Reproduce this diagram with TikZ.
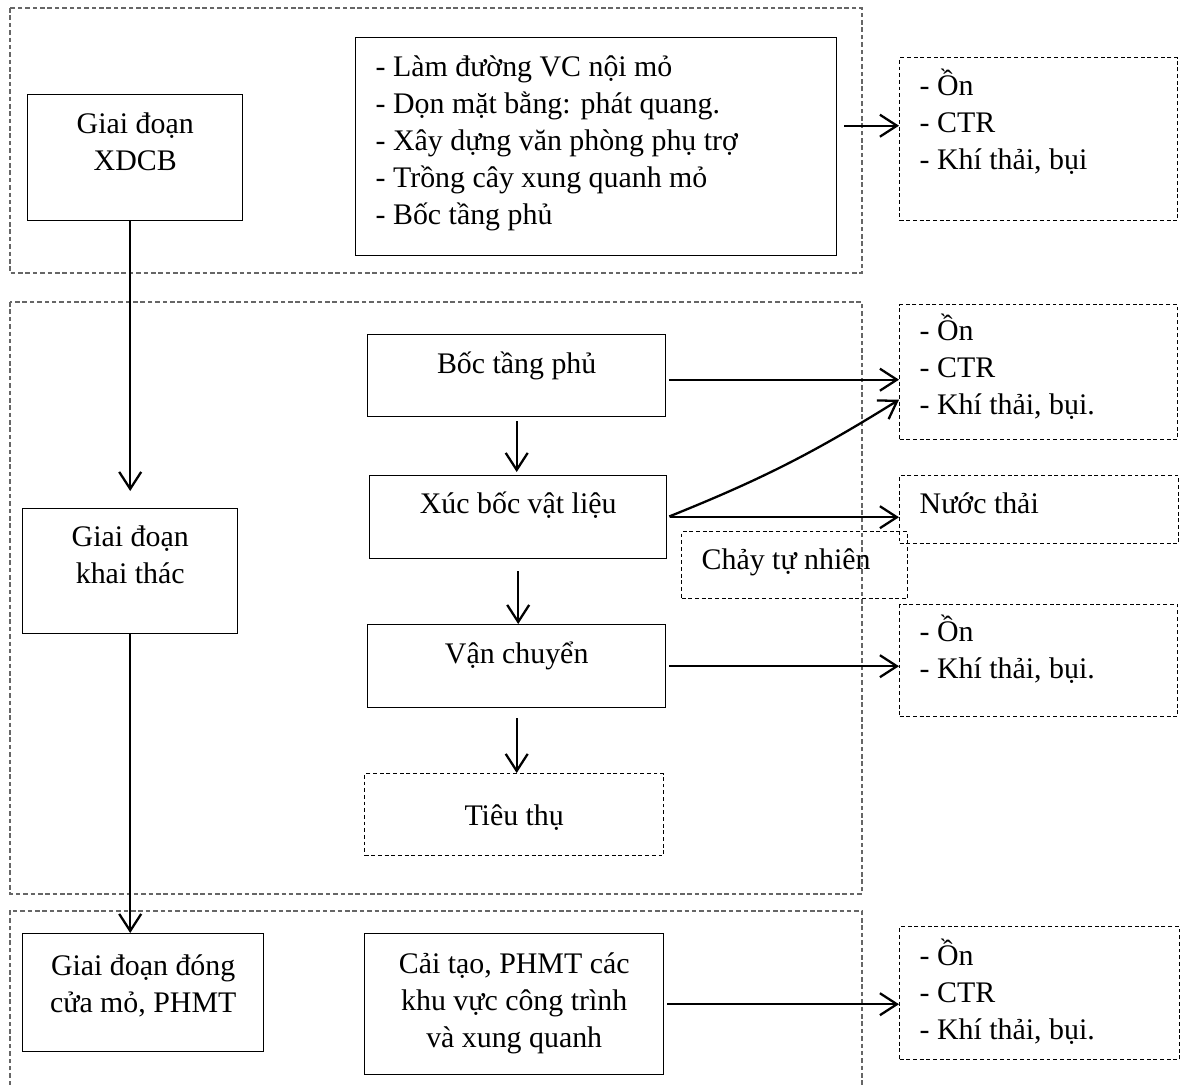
\documentclass[tikz,border=0pt]{standalone}
\usepackage{fontspec}
\setmainfont{Liberation Serif}
\usetikzlibrary{arrows.meta,calc,positioning}

% text in a box of fixed size, first baseline at #3 below the top
\newcommand{\midtext}[4]{\parbox[c][#1][t]{#2}{\centering\rule{0pt}{#3}#4\par}}
\newcommand{\sidetext}[4]{\parbox[c][#1][t]{#2}{\raggedright\leftskip=0.4cm\relax\rule{0pt}{#3}#4\par}}

\tikzset{
  solidbox/.style={draw, line width=0.8pt, inner sep=0pt, anchor=north west},
  dashbox/.style={solidbox, dash pattern=on 2.2pt off 1.6pt},
  group/.style={draw=black!60, line width=0.6pt, dash pattern=on 2.6pt off 1.6pt},
  arr/.style={-{Straight Barb[length=3.4mm,width=4.4mm]}, line width=1.3pt}
}

\begin{document}
\begin{tikzpicture}[font=\fontsize{17pt}{21pt}\selectfont]
\useasboundingbox (0,0) rectangle (23.6,-21.7);

% the three stages
\draw[group] (0.2,-0.16) rectangle (17.24,-5.46);
\draw[group] (0.2,-6.04) rectangle (17.24,-17.88);
\draw[group] (0.2,-22) -- (0.2,-18.22) -- (17.24,-18.22) -- (17.24,-22);

% XDCB
\node[solidbox] (xdcb) at (0.54,-1.88) {\midtext{2.52cm}{4.30cm}{0.78cm}{Giai đoạn\\XDCB}};
\node[solidbox] (list) at (7.10,-0.74) {\sidetext{4.36cm}{9.62cm}{0.78cm}{- Làm đường VC nội mỏ\\- Dọn mặt bằng: phát quang.\\- Xây dựng văn phòng phụ trợ\\- Trồng cây xung quanh mỏ\\- Bốc tầng phủ}};
\node[dashbox] (imp1) at (17.98,-1.14) {\sidetext{3.26cm}{5.56cm}{0.76cm}{- Ồn\\- CTR\\- Khí thải, bụi}};

% khai thac
\node[solidbox] (khai) at (0.44,-10.16) {\midtext{2.50cm}{4.30cm}{0.76cm}{Giai đoạn\\khai thác}};
\node[solidbox] (boc) at (7.34,-6.68) {\midtext{1.64cm}{5.96cm}{0.78cm}{Bốc tầng phủ}};
\node[solidbox] (xuc) at (7.38,-9.50) {\midtext{1.66cm}{5.94cm}{0.76cm}{Xúc bốc vật liệu}};
\node[solidbox] (van) at (7.34,-12.48) {\midtext{1.66cm}{5.96cm}{0.78cm}{Vận chuyển}};
\node[dashbox] (tieu) at (7.28,-15.46) {\midtext{1.64cm}{5.98cm}{1.04cm}{Tiêu thụ}};
\node[dashbox] (imp2) at (17.98,-6.08) {\sidetext{2.70cm}{5.56cm}{0.72cm}{- Ồn\\- CTR\\- Khí thải, bụi.}};
\node[dashbox] (nuoc) at (17.98,-9.50) {\sidetext{1.36cm}{5.58cm}{0.76cm}{Nước thải}};
\node[dashbox] (chay) at (13.62,-10.62) {\sidetext{1.34cm}{4.52cm}{0.76cm}{Chảy tự nhiên}};
\node[dashbox] (imp3) at (17.98,-12.08) {\sidetext{2.24cm}{5.56cm}{0.74cm}{- Ồn\\- Khí thải, bụi.}};

% dong cua mo
\node[solidbox] (dong) at (0.44,-18.66) {\midtext{2.36cm}{4.82cm}{0.84cm}{Giai đoạn đóng\\cửa mỏ, PHMT}};
\node[solidbox] (cai) at (7.28,-18.66) {\midtext{2.82cm}{5.98cm}{0.80cm}{Cải tạo, PHMT các\\khu vực công trình\\và xung quanh}};
\node[dashbox] (imp4) at (17.98,-18.52) {\sidetext{2.66cm}{5.60cm}{0.78cm}{- Ồn\\- CTR\\- Khí thải, bụi.}};

% stage to stage
\draw[arr, shorten >=0.34cm] (khai.north |- xdcb.south) -- (khai.north);
\draw[arr] (khai.south) -- (khai.south |- dong.north);

% work flow
\draw[arr, shorten <=0.08cm, shorten >=0.06cm] (boc.south) -- (boc.south |- xuc.north);
\draw[arr, shorten <=0.24cm] (xuc.south) -- (xuc.south |- van.north);
\draw[arr, shorten <=0.2cm] (van.south) -- (van.south |- tieu.north);

% impacts
\coordinate (a1) at ([yshift=0.42cm]list.east);
\coordinate (a2) at ([yshift=-0.08cm]boc.east);
\draw[arr, shorten <=0.14cm] (a1) -- (a1 -| imp1.west);
\draw[arr, shorten <=0.06cm] (a2) -- (a2 -| imp2.west);
\draw[arr, shorten <=0.04cm] (xuc.east) to[bend right=5] ([yshift=-0.55cm]imp2.west);
\foreach \a/\b in {xuc/nuoc, van/imp3, cai/imp4}
  \draw[arr, shorten <=0.06cm] (\a.east) -- (\a.east -| \b.west);

\end{tikzpicture}
\end{document}
